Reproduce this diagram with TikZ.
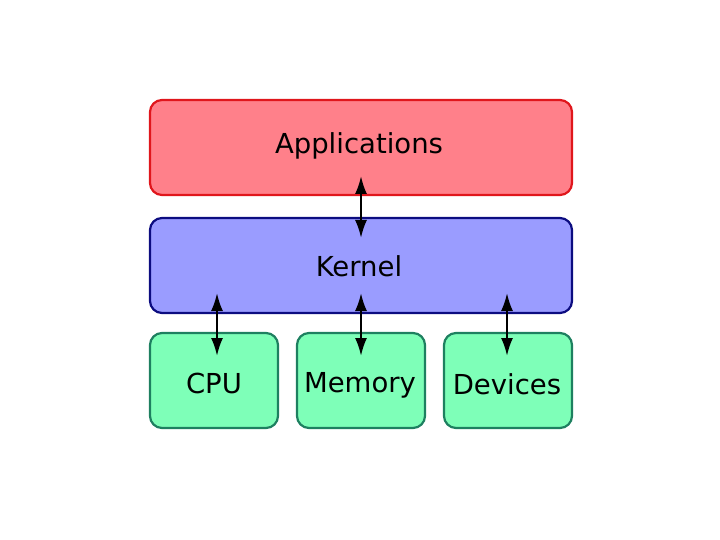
\documentclass[tikz,border=0pt]{standalone}
\usepackage{fontspec}
\setmainfont{DejaVu Sans}
\usetikzlibrary{arrows.meta}
\definecolor{appfill}{HTML}{FF808A}
\definecolor{appline}{HTML}{E0161C}
\definecolor{kerfill}{HTML}{9A9CFF}
\definecolor{kerline}{HTML}{0C0C80}
\definecolor{hwfill}{HTML}{7EFFB8}
\definecolor{hwline}{HTML}{1E8060}
\tikzset{
  layer/.style={rounded corners=12pt, line width=2.2pt},
  lbl/.style={font=\fontsize{27.5}{32}\selectfont, text=black},
  arr/.style={{Latex[length=18pt,width=12pt]}-{Latex[length=18pt,width=12pt]}, line width=2.2pt}
}
\begin{document}
\begin{tikzpicture}[x=1pt,y=-1pt]
\useasboundingbox (0,0) rectangle (720,540);
\draw[layer, draw=appline, fill=appfill] (150,100) rectangle (572,195);
\node[lbl] (app) at (359,146) {Applications};
\draw[layer, draw=kerline, fill=kerfill] (150,218) rectangle (572,313);
\node[lbl] (ker) at (359,266) {Kernel};
\draw[layer, draw=hwline, fill=hwfill] (150,333) rectangle (278,428);
\draw[layer, draw=hwline, fill=hwfill] (297,333) rectangle (425,428);
\draw[layer, draw=hwline, fill=hwfill] (444,333) rectangle (572,428);
\node[lbl] (cpu) at (214,383) {CPU};
\node[lbl] (mem) at (360,385) {Memory};
\node[lbl] (dev) at (507,384) {Devices};
\coordinate (a1) at (361,176);
\coordinate (a2) at (361,238);
\coordinate (c1) at (217,293);
\coordinate (c2) at (217,356);
\coordinate (m1) at (361,293);
\coordinate (m2) at (361,356);
\coordinate (d1) at (507,293);
\coordinate (d2) at (507,356);
\draw[arr] (a1) -- (a2);
\draw[arr] (c1) -- (c2);
\draw[arr] (m1) -- (m2);
\draw[arr] (d1) -- (d2);
\end{tikzpicture}
\end{document}
